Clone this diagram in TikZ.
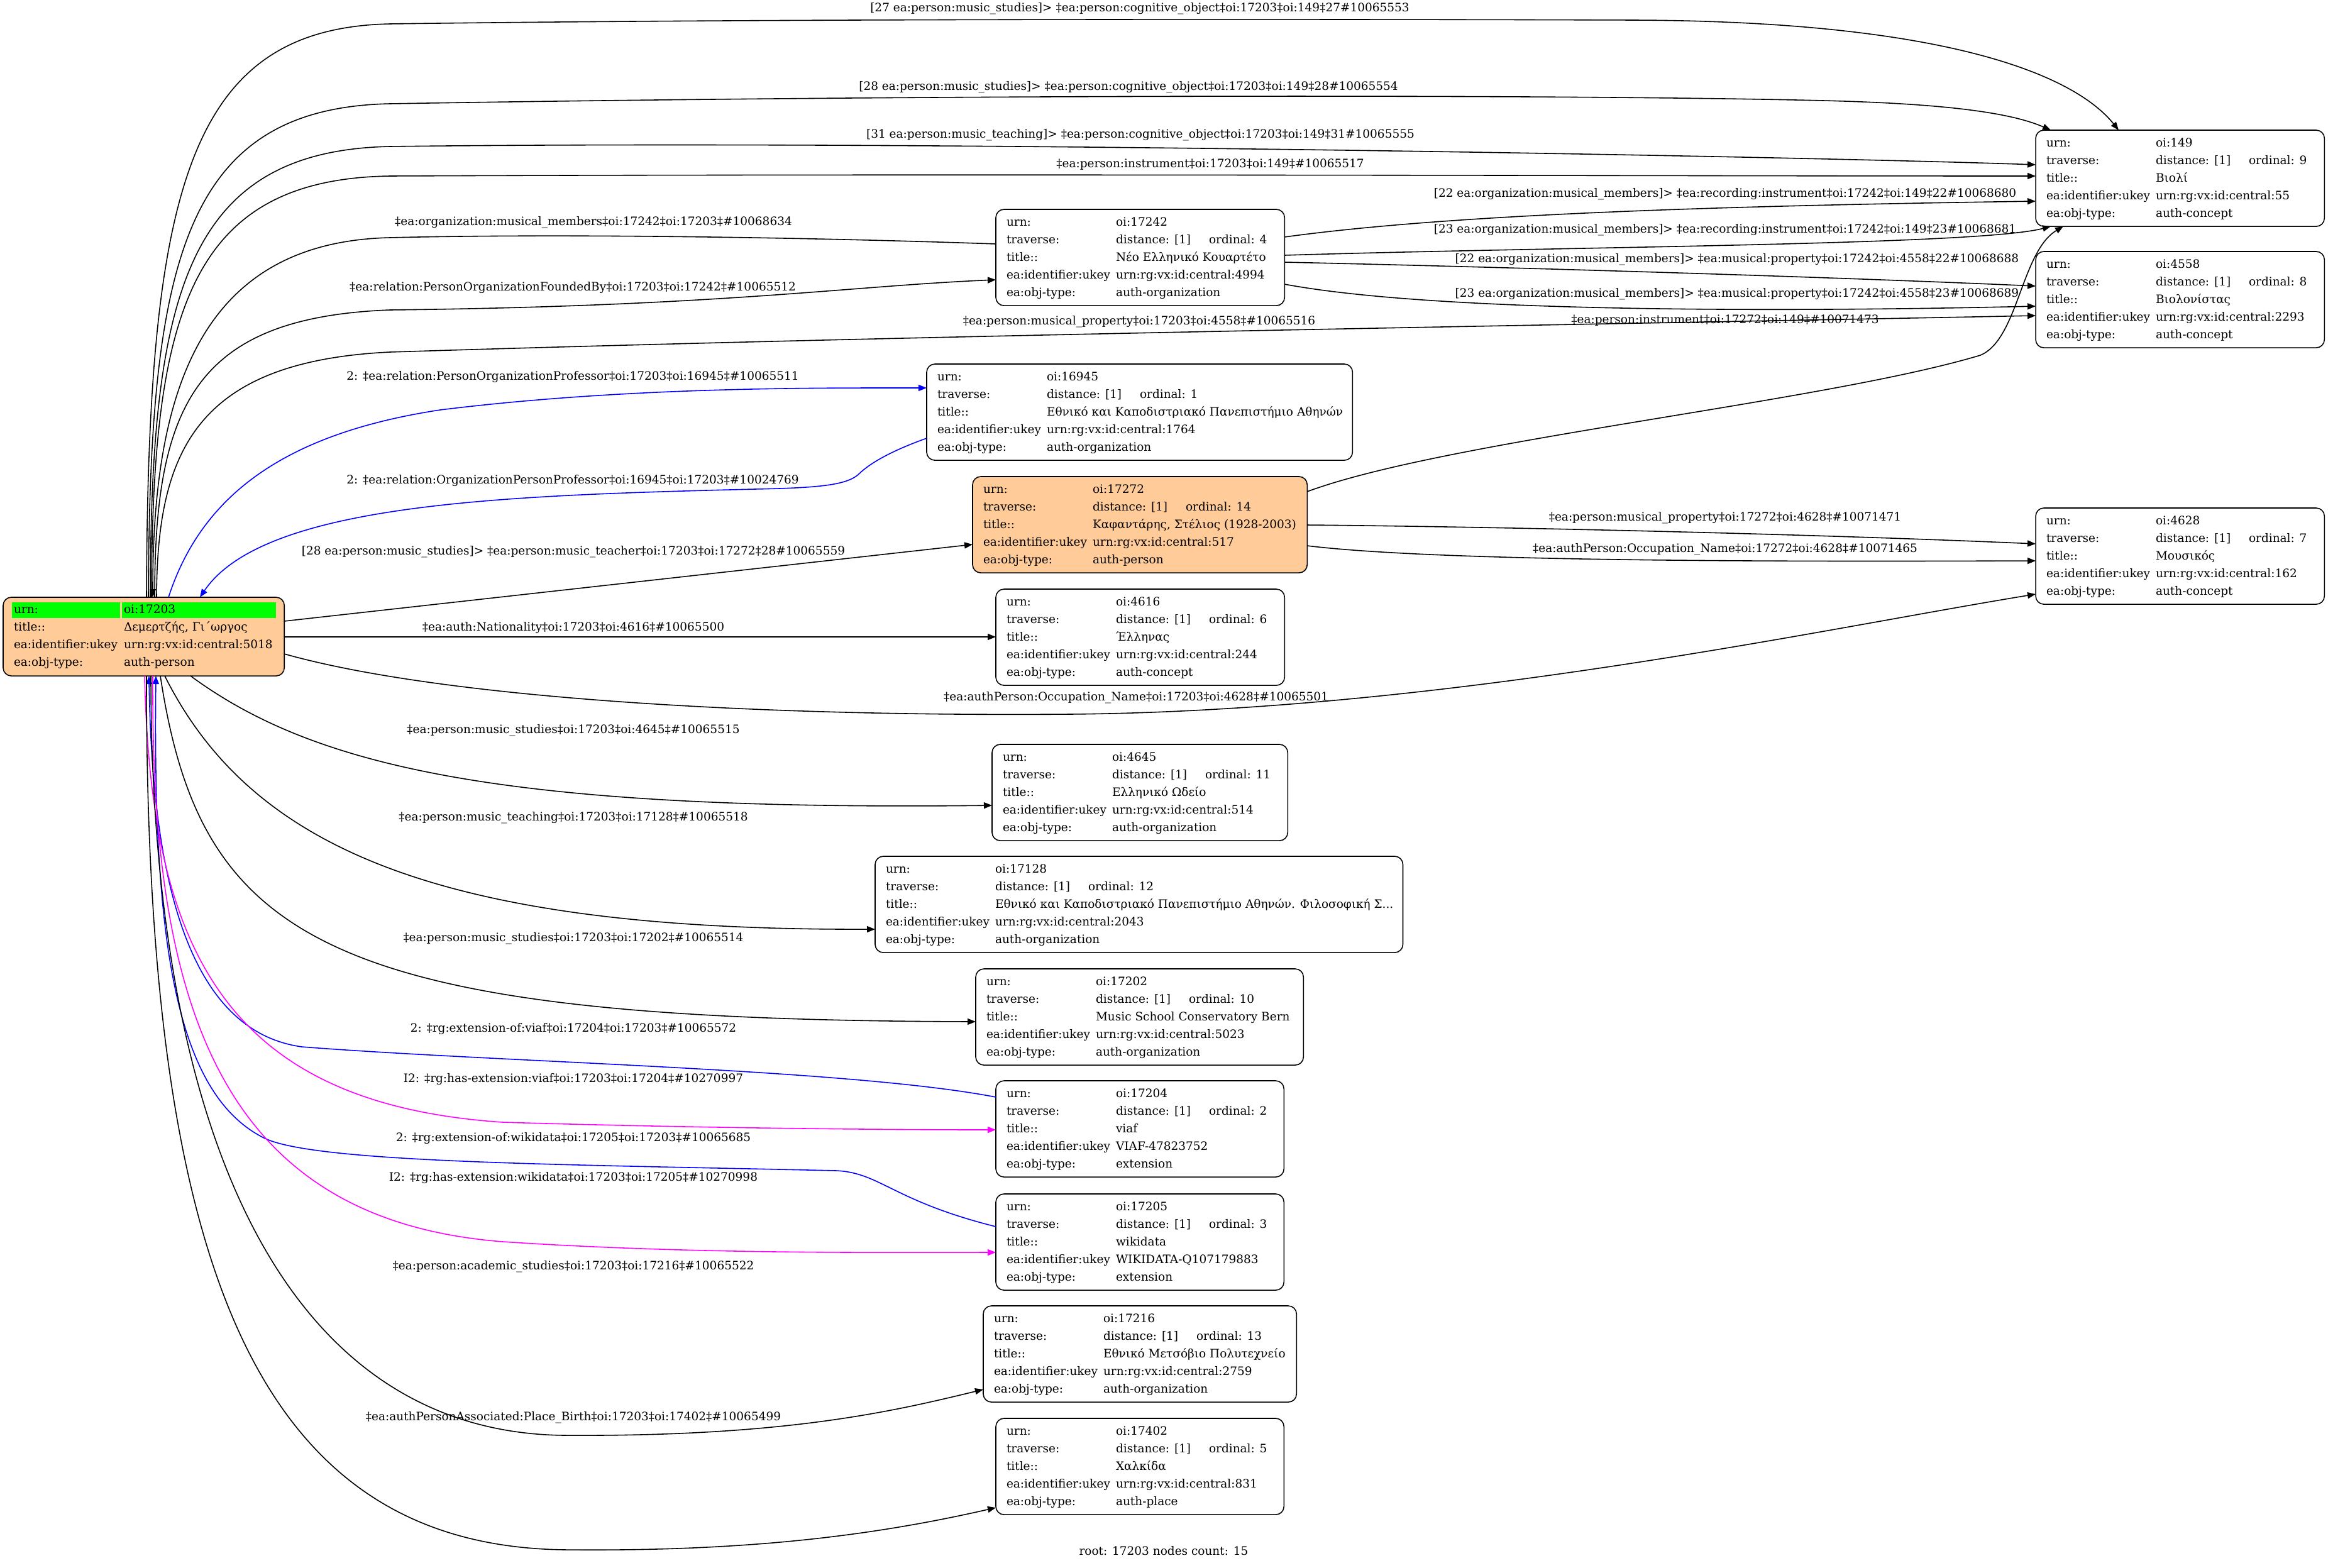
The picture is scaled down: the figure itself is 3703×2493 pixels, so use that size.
\documentclass[tikz,border=0pt]{standalone}
\usepackage{fontspec}
\setmainfont{DejaVu Serif}
\usetikzlibrary{arrows.meta,calc}
\definecolor{gvorange}{HTML}{FFCC99}
\definecolor{gvgreen}{HTML}{00FF00}
\definecolor{gvblue}{HTML}{0000FF}
\definecolor{gvmagenta}{HTML}{FF00FF}
\newcommand\gvfont{\fontsize{5.26pt}{6.3pt}\selectfont}
\tikzset{
 ebox/.style={draw, line width=0.45pt, rounded corners=0.13cm, inner sep=0pt, outer sep=0pt, anchor=north west, minimum height=1.53cm},
 txt/.style={inner sep=0pt, outer sep=0pt, anchor=base west, font=\gvfont},
 elab/.style={inner sep=0pt, outer sep=0pt, anchor=center, font=\gvfont, text height=0.135cm, text depth=0.04cm},
 gvedge/.style={line width=0.45pt, -{Triangle[length=0.13cm,width=0.1cm]}},
 bedge/.style={gvedge, gvblue},
 medge/.style={gvedge, gvmagenta},
}
\newcommand\enttext[6]{%
 \node[txt] (#1-a1) at ($(#1.north west)+(17,26)$) {urn:};
 \node[txt] (#1-b1) at ($(#1.north west)+(191,26)$) {#2};
 \node[txt] (#1-a2) at ($(#1.north west)+(17,54.2)$) {traverse:};
 \node[txt] (#1-b2) at ($(#1.north west)+(191,54.2)$) {distance: [1]};
 \node[txt] (#1-c2) at ($(#1.north west)+(339,54.2)$) {ordinal: #3};
 \node[txt] (#1-a3) at ($(#1.north west)+(17,82.4)$) {title::};
 \node[txt] (#1-b3) at ($(#1.north west)+(191,82.4)$) {#4};
 \node[txt] (#1-a4) at ($(#1.north west)+(17,110.6)$) {ea:identifier:ukey};
 \node[txt] (#1-b4) at ($(#1.north west)+(191,110.6)$) {#5};
 \node[txt] (#1-a5) at ($(#1.north west)+(17,138.8)$) {ea:obj-type:};
 \node[txt] (#1-b5) at ($(#1.north west)+(191,138.8)$) {#6};
}
\begin{document}
\begin{tikzpicture}[x=0.01cm,y=-0.01cm]
\useasboundingbox (0,0) rectangle (3703,2493);

% ---------- root ----------
\node[ebox, fill=gvorange, minimum width=4.47cm, minimum height=1.25cm] (R) at (5,950) {};
\fill[gvgreen] ($(R.north west)+(14,8)$) rectangle ($(R.north west)+(186,33)$);
\fill[gvgreen] ($(R.north west)+(189,8)$) rectangle ($(R.north west)+(434,33)$);
\node[txt] (R-a1) at ($(R.north west)+(17,25)$) {urn:};
\node[txt] (R-b1) at ($(R.north west)+(192,25)$) {oi:17203};
\node[txt] (R-a2) at ($(R.north west)+(17,53.3)$) {title::};
\node[txt] (R-b2) at ($(R.north west)+(192,53.3)$) {Δεμερτζής, Γι΄ωργος};
\node[txt] (R-a3) at ($(R.north west)+(17,81.6)$) {ea:identifier:ukey};
\node[txt] (R-b3) at ($(R.north west)+(192,81.6)$) {urn:rg:vx:id:central:5018};
\node[txt] (R-a4) at ($(R.north west)+(17,109.9)$) {ea:obj-type:};
\node[txt] (R-b4) at ($(R.north west)+(192,109.9)$) {auth-person};

% ---------- other entities ----------
\node[ebox, minimum width=4.59cm] (n149) at (3238,207) {};
\enttext{n149}{oi:149}{9}{Βιολί}{urn:rg:vx:id:central:55}{auth-concept}
\node[ebox, minimum width=4.59cm] (n4558) at (3238,400) {};
\enttext{n4558}{oi:4558}{8}{Βιολονίστας}{urn:rg:vx:id:central:2293}{auth-concept}
\node[ebox, minimum width=4.59cm] (n17242) at (1584,333) {};
\enttext{n17242}{oi:17242}{4}{Νέο Ελληνικό Κουαρτέτο}{urn:rg:vx:id:central:4994}{auth-organization}
\node[ebox, minimum width=6.77cm] (n16945) at (1474,579) {};
\enttext{n16945}{oi:16945}{1}{Εθνικό και Καποδιστριακό Πανεπιστήμιο Αθηνών}{urn:rg:vx:id:central:1764}{auth-organization}
\node[ebox, fill=gvorange, minimum width=5.32cm] (n17272) at (1547,758) {};
\enttext{n17272}{oi:17272}{14}{Καφαντάρης, Στέλιος (1928-2003)}{urn:rg:vx:id:central:517}{auth-person}
\node[ebox, minimum width=4.59cm] (n4616) at (1584,937) {};
\enttext{n4616}{oi:4616}{6}{Έλληνας}{urn:rg:vx:id:central:244}{auth-concept}
\node[ebox, minimum width=4.59cm] (n4628) at (3238,808) {};
\enttext{n4628}{oi:4628}{7}{Μουσικός}{urn:rg:vx:id:central:162}{auth-concept}
\node[ebox, minimum width=4.70cm] (n4645) at (1578,1184) {};
\enttext{n4645}{oi:4645}{11}{Ελληνικό Ωδείο}{urn:rg:vx:id:central:514}{auth-organization}
\node[ebox, minimum width=8.39cm] (n17128) at (1392,1362) {};
\enttext{n17128}{oi:17128}{12}{Εθνικό και Καποδιστριακό Πανεπιστήμιο Αθηνών. Φιλοσοφική Σ...}{urn:rg:vx:id:central:2043}{auth-organization}
\node[ebox, minimum width=5.21cm] (n17202) at (1552,1541) {};
\enttext{n17202}{oi:17202}{10}{Music School Conservatory Bern}{urn:rg:vx:id:central:5023}{auth-organization}
\node[ebox, minimum width=4.58cm] (n17204) at (1584,1719) {};
\enttext{n17204}{oi:17204}{2}{viaf}{VIAF-47823752}{extension}
\node[ebox, minimum width=4.58cm] (n17205) at (1584,1899) {};
\enttext{n17205}{oi:17205}{3}{wikidata}{WIKIDATA-Q107179883}{extension}
\node[ebox, minimum width=4.98cm] (n17216) at (1564,2077) {};
\enttext{n17216}{oi:17216}{13}{Εθνικό Μετσόβιο Πολυτεχνείο}{urn:rg:vx:id:central:2759}{auth-organization}
\node[ebox, minimum width=4.58cm] (n17402) at (1584,2256) {};
\enttext{n17402}{oi:17402}{5}{Χαλκίδα}{urn:rg:vx:id:central:831}{auth-place}

% ---------- edges from root top ----------
\draw[gvedge] ($(R.north west)+(228,0)$) .. controls (235,300) and (300,45) .. (620,38) .. controls (1200,30) and (2000,30) .. (2600,32) .. controls (3100,34) and (3300,120) .. ($(n149.north west)+(132,0)$);
\draw[gvedge] ($(R.north west)+(231,0)$) .. controls (238,420) and (290,172) .. (620,165) .. controls (1500,150) and (2500,150) .. (2900,160) .. controls (3100,165) and (3200,180) .. ($(n149.north west)+(24,0)$);
\draw[gvedge] ($(R.north west)+(234,0)$) .. controls (240,470) and (295,240) .. (620,233) .. controls (1500,222) and (2900,250) .. ($(n149.north west)+(0,55)$);
\draw[gvedge] ($(R.north west)+(236,0)$) .. controls (242,500) and (300,285) .. (620,280) .. controls (1500,276) and (2600,280) .. ($(n149.north west)+(0,73)$);
\draw[gvedge] ($(n17242.north west)+(0,55)$) .. controls (1300,378) and (900,371) .. (620,378) .. controls (320,385) and (243,620) .. ($(R.north west)+(238,0)$);
\draw[gvedge] ($(R.north west)+(241,0)$) .. controls (246,645) and (310,505) .. (620,493) .. controls (1150,487) and (1350,455) .. ($(n17242.north west)+(0,112)$);
\draw[gvedge] ($(R.north west)+(244,0)$) .. controls (250,720) and (310,575) .. (620,560) .. controls (1500,532) and (2600,515) .. ($(n4558.north west)+(0,102)$);
\draw[bedge] ($(R.north west)+(263,0)$) .. controls (320,790) and (450,690) .. (700,652) .. controls (1000,615) and (1300,617) .. ($(n16945.north west)+(0,38)$);
\draw[bedge] ($(n16945.north west)+(0,118)$) .. controls (1410,720) and (1380,740) .. (1365,755) .. controls (1345,772) and (1300,776) .. (1200,778) .. controls (800,788) and (420,800) .. ($(R.north west)+(313,0)$);

% ---------- edges from root right ----------
\draw[gvedge] ($(R.north west)+(447,38)$) -- ($(n17272.north west)+(0,108)$);
\draw[gvedge] ($(R.north west)+(447,63)$) -- ($(n4616.north west)+(0,76)$);
\draw[gvedge] ($(R.north west)+(447,90)$) .. controls (700,1110) and (1200,1140) .. (1700,1136) .. controls (2300,1131) and (2900,1000) .. ($(n4628.north west)+(0,137)$);

% ---------- edges from root bottom ----------
\draw[gvedge] ($(R.north west)+(298,125)$) .. controls (500,1220) and (800,1290) .. ($(n4645.north west)+(0,97)$);
\draw[gvedge] ($(R.north west)+(257,125)$) .. controls (400,1350) and (700,1480) .. ($(n17128.north west)+(0,116)$);
\draw[gvedge] ($(R.north west)+(250,125)$) .. controls (320,1500) and (520,1622) .. ($(n17202.north west)+(0,84)$);
\draw[bedge] ($(n17204.north west)+(0,26)$) .. controls (1350,1700) and (800,1690) .. (480,1665) .. controls (300,1640) and (242,1400) .. ($(R.north west)+(232,125)$);
\draw[medge] ($(R.north west)+(225,125)$) .. controls (240,1500) and (350,1755) .. (800,1785) .. controls (1100,1794) and (1400,1797) .. ($(n17204.north west)+(0,78)$);
\draw[bedge] ($(n17205.north west)+(0,52)$) .. controls (1420,1910) and (1400,1865) .. (1330,1862) .. controls (900,1852) and (500,1850) .. (420,1810) .. controls (280,1740) and (243,1500) .. ($(R.north west)+(243,125)$);
\draw[medge] ($(R.north west)+(238,125)$) .. controls (240,1600) and (350,1940) .. (800,1975) .. controls (1100,1995) and (1400,1992) .. ($(n17205.north west)+(0,93)$);
\draw[gvedge] ($(R.north west)+(235,125)$) .. controls (240,1800) and (450,2280) .. (900,2283) .. controls (1250,2285) and (1420,2245) .. ($(n17216.north west)+(0,133)$);
\draw[gvedge] ($(R.north west)+(228,125)$) .. controls (232,2000) and (400,2460) .. (900,2465) .. controls (1200,2468) and (1400,2440) .. ($(n17402.north west)+(0,142)$);

% ---------- edges between middle and right ----------
\draw[gvedge] ($(n17242.north west)+(459,44)$) .. controls (2300,342) and (2700,328) .. ($(n149.north west)+(0,113)$);
\draw[gvedge] ($(n17242.north west)+(459,73)$) .. controls (2500,392) and (3150,390) .. ($(n149.north west)+(24,153)$);
\draw[gvedge] ($(n17242.north west)+(459,84)$) .. controls (2400,425) and (2900,440) .. ($(n4558.north west)+(0,55)$);
\draw[gvedge] ($(n17242.north west)+(459,119)$) .. controls (2300,500) and (2900,495) .. ($(n4558.north west)+(0,87)$);
\draw[gvedge] ($(n17272.north west)+(532,24)$) .. controls (2300,700) and (2900,640) .. (3150,565) .. controls (3210,540) and (3215,400) .. ($(n149.north west)+(44,153)$);
\draw[gvedge] ($(n17272.north west)+(532,77)$) .. controls (2400,838) and (2900,850) .. ($(n4628.north west)+(0,57)$);
\draw[gvedge] ($(n17272.north west)+(532,110)$) .. controls (2300,895) and (2900,893) .. ($(n4628.north west)+(0,84)$);

% ---------- edge labels ----------
\node[elab] (l1) at (1813,14) {[27 ea:person:music\_studies]> ‡ea:person:cognitive\_object‡oi:17203‡oi:149‡27\#10065553};
\node[elab] (l2) at (1795,139) {[28 ea:person:music\_studies]> ‡ea:person:cognitive\_object‡oi:17203‡oi:149‡28\#10065554};
\node[elab] (l3) at (1814,215) {[31 ea:person:music\_teaching]> ‡ea:person:cognitive\_object‡oi:17203‡oi:149‡31\#10065555};
\node[elab] (l4) at (1925,262) {‡ea:person:instrument‡oi:17203‡oi:149‡\#10065517};
\node[elab] (l5) at (944,354) {‡ea:organization:musical\_members‡oi:17242‡oi:17203‡\#10068634};
\node[elab] (l6) at (911,458) {‡ea:relation:PersonOrganizationFoundedBy‡oi:17203‡oi:17242‡\#10065512};
\node[elab] (l7) at (1812,512) {‡ea:person:musical\_property‡oi:17203‡oi:4558‡\#10065516};
\node[elab] (l8) at (911,600) {2: ‡ea:relation:PersonOrganizationProfessor‡oi:17203‡oi:16945‡\#10065511};
\node[elab] (l9) at (911,765) {2: ‡ea:relation:OrganizationPersonProfessor‡oi:16945‡oi:17203‡\#10024769};
\node[elab] (l10) at (912,878) {[28 ea:person:music\_studies]> ‡ea:person:music\_teacher‡oi:17203‡oi:17272‡28\#10065559};
\node[elab] (l11) at (912,999) {‡ea:auth:Nationality‡oi:17203‡oi:4616‡\#10065500};
\node[elab] (l12) at (1807,1110) {‡ea:authPerson:Occupation\_Name‡oi:17203‡oi:4628‡\#10065501};
\node[elab] (l13) at (912,1162) {‡ea:person:music\_studies‡oi:17203‡oi:4645‡\#10065515};
\node[elab] (l14) at (912,1301) {‡ea:person:music\_teaching‡oi:17203‡oi:17128‡\#10065518};
\node[elab] (l15) at (912,1493) {‡ea:person:music\_studies‡oi:17203‡oi:17202‡\#10065514};
\node[elab] (l16) at (912,1637) {2: ‡rg:extension-of:viaf‡oi:17204‡oi:17203‡\#10065572};
\node[elab] (l17) at (912,1717) {I2: ‡rg:has-extension:viaf‡oi:17203‡oi:17204‡\#10270997};
\node[elab] (l18) at (912,1811) {2: ‡rg:extension-of:wikidata‡oi:17205‡oi:17203‡\#10065685};
\node[elab] (l19) at (912,1874) {I2: ‡rg:has-extension:wikidata‡oi:17203‡oi:17205‡\#10270998};
\node[elab] (l20) at (912,2015) {‡ea:person:academic\_studies‡oi:17203‡oi:17216‡\#10065522};
\node[elab] (l21) at (912,2255) {‡ea:authPersonAssociated:Place\_Birth‡oi:17203‡oi:17402‡\#10065499};
\node[elab] (l22) at (2744,309) {[22 ea:organization:musical\_members]> ‡ea:recording:instrument‡oi:17242‡oi:149‡22\#10068680};
\node[elab] (l23) at (2744,366) {[23 ea:organization:musical\_members]> ‡ea:recording:instrument‡oi:17242‡oi:149‡23\#10068681};
\node[elab] (l24) at (2763,413) {[22 ea:organization:musical\_members]> ‡ea:musical:property‡oi:17242‡oi:4558‡22\#10068688};
\node[elab] (l25) at (2763,468) {[23 ea:organization:musical\_members]> ‡ea:musical:property‡oi:17242‡oi:4558‡23\#10068689};
\node[elab] (l26) at (2744,510) {‡ea:person:instrument‡oi:17272‡oi:149‡\#10071473};
\node[elab] (l27) at (2744,824) {‡ea:person:musical\_property‡oi:17272‡oi:4628‡\#10071471};
\node[elab] (l28) at (2744,874) {‡ea:authPerson:Occupation\_Name‡oi:17272‡oi:4628‡\#10071465};

\node[elab] (foot) at (1851,2469) {root: 17203 nodes count: 15};
\end{tikzpicture}
\end{document}
